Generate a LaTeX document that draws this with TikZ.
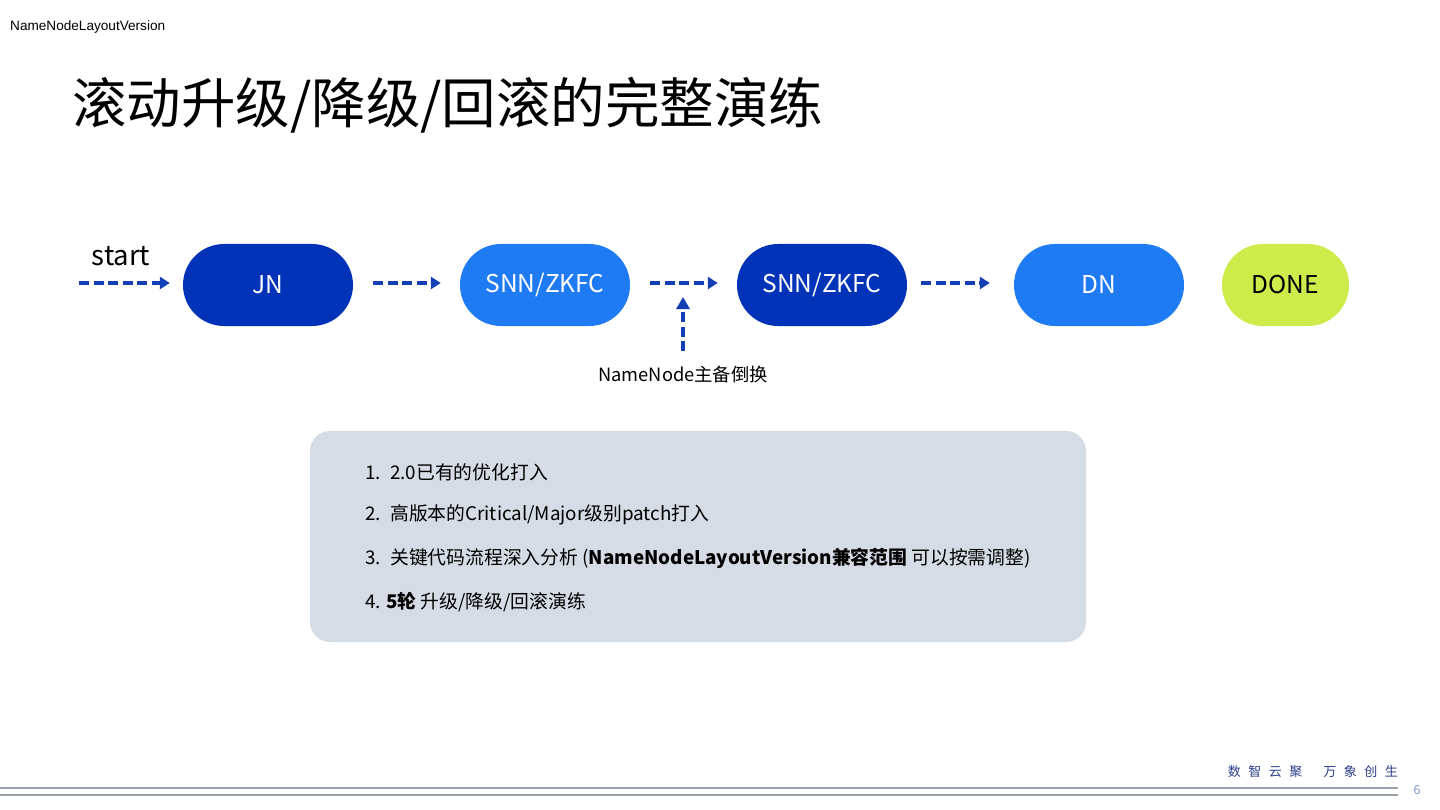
\documentclass[tikz,border=0pt]{standalone}
\usepackage{fontspec}
\setmainfont{Noto Sans CJK SC}
\newfontfamily\arialf{Liberation Sans}
\usetikzlibrary{arrows.meta}
\definecolor{dblue}{HTML}{0033B8}
\definecolor{lblue}{HTML}{1E7BF4}
\definecolor{lgreen}{HTML}{CDEB4B}
\definecolor{arrblue}{HTML}{1240B4}
\definecolor{boxgray}{HTML}{D6DCE5}
\definecolor{linegray}{HTML}{9AA0A8}
\definecolor{footblue}{HTML}{2B3F8C}
\definecolor{pageblue}{HTML}{7F9FD0}
\tikzset{
  pill/.style={rounded corners=41pt, minimum width=170pt, minimum height=82pt, inner sep=0pt, text=white, font=\fontsize{24.5}{28}\selectfont},
  darkpill/.style={pill, fill=dblue},
  lightpill/.style={pill, fill=lblue},
  flowarrow/.style={draw=arrblue, line width=3.8pt, dash pattern=on 10pt off 4.5pt, -{Triangle[length=10pt,width=12pt]}},
  listitem/.style={anchor=west, inner sep=0pt, font=\fontsize{18.8}{21}\selectfont},
}
\begin{document}
\begin{tikzpicture}[x=1pt,y=-1pt]
\useasboundingbox (0,0) rectangle (1440,810);
\fill[white] (0,0) rectangle (1440,810);
% header
\node[anchor=west, inner sep=0pt, font=\arialf\fontsize{13.6}{15}\selectfont] (hdr) at (10,27) {NameNodeLayoutVersion};
% title
\node[anchor=west, inner sep=0pt, font=\fontsize{54.5}{60}\selectfont] (title) at (72,105) {滚动升级/降级/回滚的完整演练};
% nodes
\node[darkpill] (jn) at (268,285) {JN};
\node[lightpill] (snn1) at (545,285) {SNN/ZKFC};
\node[darkpill] (snn2) at (822,285) {SNN/ZKFC};
\node[lightpill] (dn) at (1099,285) {DN};
\node[pill, fill=lgreen, text=black, minimum width=127pt] (done) at (1285.5,285) {DONE};
% start
\node[anchor=center, inner sep=0pt, font=\fontsize{27.5}{30}\selectfont] (startlbl) at (121,256) {start};
\coordinate (s0) at (79,283);
\coordinate (sw0) at (683,351);
\coordinate (sw1) at (683,297);
\draw[flowarrow, shorten >=13pt] (s0) -- (jn.west |- s0);
\draw[flowarrow, shorten <=20pt, shorten >=19pt] (jn.east |- s0) -- (snn1.west |- s0);
\draw[flowarrow, shorten <=20pt, shorten >=19pt] (snn1.east |- s0) -- (snn2.west |- s0);
\draw[flowarrow, shorten <=14pt, shorten >=24pt] (snn2.east |- s0) -- (dn.west |- s0);
\draw[flowarrow, line width=4.2pt, -{Triangle[length=12pt,width=13pt]}] (sw0) -- (sw1);
\node[inner sep=0pt, font=\fontsize{18.3}{20}\selectfont] (swlbl) at (683,375) {NameNode主备倒换};
% gray box
\node[draw=none, fill=boxgray, rounded corners=20pt, minimum width=776pt, minimum height=211pt, inner sep=0pt] (box) at (698,536.5) {};
\node[listitem] (l1) at (365,472) {1.\enspace 2.0已有的优化打入};
\node[listitem] (l2) at (365,515) {2.\enspace 高版本的Critical/Major级别patch打入};
\node[listitem] (l3) at (365,558) {3.\enspace 关键代码流程深入分析 (\textbf{NameNodeLayoutVersion兼容范围} 可以按需调整)};
\node[listitem] (l4) at (365,602) {4. \textbf{5轮} 升级/降级/回滚演练};
% footer
\draw[linegray, line width=1.1pt] (0,788) -- (1398,788);
\draw[linegray, line width=1.1pt] (0,795) -- (1398,795);
\node[anchor=east, inner sep=0pt, text=footblue, font=\fontsize{13}{14}\selectfont] (slogan) at (1398,772) {数\hspace{7.5pt}智\hspace{7.5pt}云\hspace{7.5pt}聚\hspace{21pt}万\hspace{7.5pt}象\hspace{7.5pt}创\hspace{7.5pt}生};
\node[inner sep=0pt, text=pageblue, font=\fontsize{12.5}{14}\selectfont] (pg) at (1417,790) {6};
\end{tikzpicture}
\end{document}
